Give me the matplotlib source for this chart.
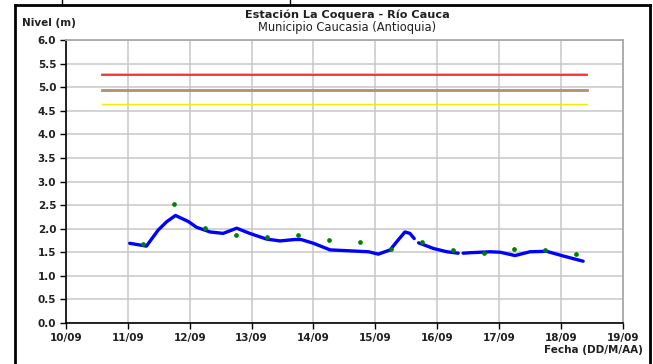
import numpy as np
import matplotlib
matplotlib.use("Agg")
from matplotlib import pyplot as plt
from matplotlib.lines import Line2D

plt.rcParams['font.family'] = ['DejaVu Sans']

# Nivel medido (curva azul), dias de septiembre
nan = np.nan
nivel_dia = [11.03, 11.30, 11.49, 11.63, 11.77, 11.98, 12.11, 12.33, 12.54, 12.76,
             12.97, 13.24, 13.46, 13.70, 13.80, 14.00, 14.27, 14.59, 14.89, 15.05,
             15.24, 15.37, 15.48, 15.56, 15.63, nan, 15.70, 15.94, 16.16, 16.34,
             nan, 16.42, 16.53, 16.86, 17.02, 17.26, 17.50, 17.77, 18.04, 18.36]
nivel = [1.69, 1.63, 1.97, 2.15, 2.28, 2.15, 2.03, 1.93, 1.90, 2.01,
         1.90, 1.78, 1.74, 1.77, 1.77, 1.69, 1.55, 1.53, 1.51, 1.46,
         1.55, 1.76, 1.93, 1.90, 1.79, nan, 1.70, 1.58, 1.51, 1.48,
         nan, 1.48, 1.49, 1.51, 1.50, 1.43, 1.51, 1.52, 1.42, 1.31]

# Lecturas puntuales (puntos verdes)
obs_dia = [11.25, 11.75, 12.25, 12.75, 13.25, 13.75, 14.25, 14.75,
           15.25, 15.75, 16.25, 16.75, 17.25, 17.75, 18.25]
obs = [1.68, 2.52, 2.02, 1.86, 1.82, 1.86, 1.76, 1.72,
       1.56, 1.72, 1.54, 1.49, 1.56, 1.54, 1.47]

# Umbrales de alerta
umbral_ini, umbral_fin = 10.58, 18.43
umbral_rojo = 5.25
umbral_naranja = 4.95
umbral_amarillo = 4.65

dias = list(range(10, 20))
etiquetas = [f"{d:02d}/09" for d in dias]
yticks = [0.0, 0.5, 1.0, 1.5, 2.0, 2.5, 3.0, 3.5, 4.0, 4.5, 5.0, 5.5, 6.0]

fig = plt.figure(figsize=(6.53, 3.64), dpi=100)
ax = fig.add_axes([66 / 653, 1 - 323 / 364, (622.7 - 66) / 653, (323 - 40) / 364])

ax.set_xlim(10, 19)
ax.set_ylim(0, 6)
ax.set_xticks(dias)
ax.set_xticklabels(etiquetas, fontsize=7.5, fontweight='bold')
ax.set_yticks(yticks)
ax.set_yticklabels([f"{v:.1f}" for v in yticks], fontsize=7.5, fontweight='bold')
ax.tick_params(direction='out', length=4, width=1, colors='black', pad=3)
for lbl in ax.get_xticklabels() + ax.get_yticklabels():
    lbl.set_color('#202020')

ax.grid(True, color='#c8c8c8', linewidth=1.1)
ax.set_axisbelow(True)
for s in ['top', 'right']:
    ax.spines[s].set_color('#a8a8a8')
    ax.spines[s].set_linewidth(1.3)
for s in ['left', 'bottom']:
    ax.spines[s].set_color('black')
    ax.spines[s].set_linewidth(1.2)

# Umbrales
ax.plot([umbral_ini, umbral_fin], [umbral_rojo + 0.02] * 2, color='#f6a0a0', lw=1.2)
ax.plot([umbral_ini, umbral_fin], [umbral_rojo] * 2, color='#ee2222', lw=1.2)
ax.plot([umbral_ini, umbral_fin], [umbral_naranja - 0.03] * 2, color='#d8d8d8', lw=1.2)
ax.plot([umbral_ini, umbral_fin], [umbral_naranja] * 2, color='#b3916f', lw=2)
ax.plot([umbral_ini, umbral_fin], [umbral_amarillo] * 2, color='#f2ee00', lw=1)

# Nivel y lecturas
ax.plot(nivel_dia, nivel, color='#0000ff', lw=2.4, solid_capstyle='round',
        solid_joinstyle='round')
ax.plot(obs_dia, obs, 'o', color='#008000', markersize=3.4, markeredgewidth=0)

# Textos
fig.text(347 / 653, 1 - 15 / 364, "Estación La Coquera - Río Cauca", ha='center',
         va='center', fontsize=8.1, fontweight='bold', color='#202020')
fig.text(347 / 653, 1 - 28 / 364, "Municipio Caucasia (Antioquia)", ha='center',
         va='center', fontsize=8.3, color='#202020')
fig.text(22 / 653, 1 - 23 / 364, "Nivel (m)", ha='left', va='center',
         fontsize=7.5, fontweight='bold', color='#202020')
fig.text(643 / 653, 1 - 350 / 364, "Fecha (DD/M/AA)", ha='right', va='center',
         fontsize=7.5, fontweight='bold', color='#202020')

# Marco de la figura
W, H = 653, 364
for xs, ys in [((14.5, 14.5), (-5, 4.5)), ((14.5, 650), (4.5, 4.5)), ((650, 650), (4.5, -5))]:
    fig.add_artist(Line2D([x / W for x in xs], [1 - y / H if y >= 0 else 0 for y in ys],
                          color='black', lw=2, transform=fig.transFigure))
for x in [62, 290]:
    fig.add_artist(Line2D([x / W, x / W], [1, 1 - 3 / H], color='black', lw=1,
                          transform=fig.transFigure))

fig.savefig("out.png", dpi=100)
